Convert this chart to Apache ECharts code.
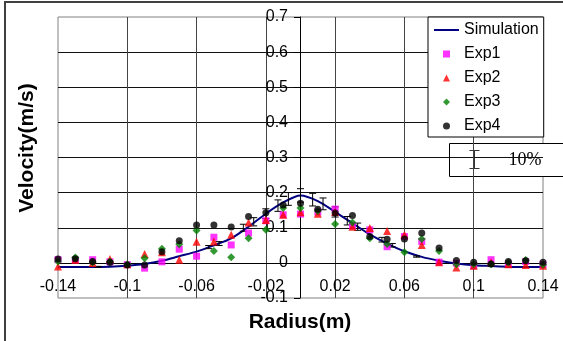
<!DOCTYPE html>
<html>
<head>
<meta charset="utf-8">
<script src="https://cdn.jsdelivr.net/npm/echarts@6/dist/echarts.min.js"></script>
<style>
  html, body { margin: 0; padding: 0; background: #fff; }
  #chart { width: 563px; height: 341px; }
</style>
</head>
<body>
<div id="chart"></div>
<script>
// radial positions (m)
const radius = [-0.14, -0.13, -0.12, -0.11, -0.10, -0.09, -0.08, -0.07, -0.06, -0.05,
  -0.04, -0.03, -0.02, -0.01, 0, 0.01, 0.02, 0.03, 0.04, 0.05,
  0.06, 0.07, 0.08, 0.09, 0.10, 0.11, 0.12, 0.13, 0.14];

const simulation = [-0.012, -0.012, -0.012, -0.011, -0.008, -0.003, 0.006, 0.019, 0.032, 0.05,
  0.07, 0.103, 0.14, 0.172, 0.192, 0.176, 0.145, 0.113, 0.081, 0.055,
  0.033, 0.017, 0.006, -0.002, -0.007, -0.009, -0.011, -0.012, -0.012];

const exp1 = [0.009, 0.008, 0.009, 0.003, -0.005, -0.015, 0.003, 0.039, 0.019, 0.073,
  0.051, 0.085, 0.12, 0.137, 0.139, 0.145, 0.153, 0.106, 0.094, 0.046,
  0.075, 0.061, 0.002, -0.001, -0.008, 0.009, -0.003, 0.004, -0.005];

const exp2 = [-0.01, 0.009, 0, 0.011, -0.004, 0.025, 0.03, 0.009, 0.06, 0.061,
  0.08, 0.115, 0.122, 0.137, 0.144, 0.14, 0.145, 0.103, 0.099, 0.091,
  0.08, 0.051, 0.002, -0.013, -0.008, 0.002, -0.004, -0.006, -0.008];

const exp3 = [0.004, 0.015, 0.002, 0.004, -0.004, 0.013, 0.04, 0.053, 0.092, 0.034,
  0.016, 0.07, 0.094, 0.156, 0.156, 0.148, 0.111, 0.115, 0.07, 0.054,
  0.03, 0.068, 0.034, -0.004, -0.004, -0.004, 0.001, 0.008, -0.005];

const exp4 = [0.011, 0.012, 0.004, 0.001, -0.006, -0.006, 0.032, 0.063, 0.108, 0.108,
  0.102, 0.132, 0.143, 0.165, 0.17, 0.153, 0.142, 0.135, 0.075, 0.067,
  0.068, 0.085, 0.042, 0.007, 0.002, -0.003, 0.004, 0.006, 0.002];

// error bars (10%) on the simulation curve
const errX = [-0.117, -0.053, -0.047, -0.033, -0.027, -0.02, -0.013, -0.007, 0,
  0.007, 0.013, 0.02, 0.027, 0.033, 0.047, 0.053, 0.067, 0.12];
const errY = [-0.011, 0.045, 0.055, 0.1, 0.117, 0.14, 0.163, 0.182, 0.192,
  0.18, 0.168, 0.145, 0.12, 0.103, 0.066, 0.05, 0.018, -0.011];
const ERR_FRAC = 0.1;

const FONT = "'Liberation Sans', Arial, sans-serif";

// legend icons as paths so they keep their aspect
const ICONS = {
  Simulation: 'path://M0,0H25V2H0Z',
  Exp1: 'path://M0,0H1V1H0Z',
  Exp2: 'path://M0.5,0L1,1H0Z',
  Exp3: 'path://M0.5,0L1,0.5L0.5,1L0,0.5Z',
  Exp4: 'path://M0.5,0A0.5,0.5,0,1,1,0.5,1A0.5,0.5,0,1,1,0.5,0Z'
};

const pairs = (ys) => radius.map((x, i) => [x, ys[i]]);

const chart = echarts.init(document.getElementById('chart'));

// grid box: left 58, top 17, right edge 543, bottom edge 298 -> zero lines at x=300, y=263
chart.setOption({
  backgroundColor: '#fff',
  animation: false,
  textStyle: { fontFamily: FONT },
  grid: {
    left: 58, right: 20, top: 17, bottom: 43,
    show: true, borderColor: '#808080', borderWidth: 1, backgroundColor: '#fff'
  },
  legend: {
    orient: 'vertical',
    left: 428, top: 17,
    padding: [5, 5, 3, 6],
    itemWidth: 25, itemHeight: 7, itemGap: 8,
    symbolKeepAspect: true,
    backgroundColor: '#fff', borderColor: '#000', borderWidth: 1, borderRadius: 0,
    textStyle: { fontFamily: FONT, fontSize: 16, color: '#000' },
    data: Object.keys(ICONS).map(n => ({ name: n, icon: ICONS[n] }))
  },
  xAxis: {
    type: 'value', min: -0.14, max: 0.14, interval: 0.04,
    position: 'bottom', offset: -35,
    axisLine: { onZero: false, lineStyle: { color: '#000', width: 1 } },
    axisTick: { show: false },
    axisLabel: { color: '#000', fontSize: 16, fontFamily: FONT, margin: 16 },
    splitLine: { show: true, showMinLine: false, showMaxLine: false, lineStyle: { color: '#444', width: 1 } }
  },
  yAxis: {
    type: 'value', min: -0.1, max: 0.7, interval: 0.1,
    position: 'left', offset: -242,
    axisLine: { onZero: false, lineStyle: { color: '#000', width: 1 } },
    axisTick: { show: true, length: 6, lineStyle: { color: '#000' } },
    axisLabel: { color: '#000', fontSize: 16, fontFamily: FONT, margin: 12 },
    splitLine: { show: true, showMinLine: false, showMaxLine: false, lineStyle: { color: '#111', width: 1 } }
  },
  series: [
    {
      name: 'Simulation', type: 'line', data: pairs(simulation),
      symbol: 'none', smooth: 0.3,
      lineStyle: { color: '#000080', width: 2 }, itemStyle: { color: '#000080' }, z: 2
    },
    {
      type: 'custom', z: 3,
      data: errX.map((x, i) => [x, errY[i]]),
      renderItem: function (params, api) {
        const x = api.value(0), y = api.value(1), d = Math.abs(y) * ERR_FRAC;
        const top = api.coord([x, y + d]);
        const bot = api.coord([x, y - d]);
        const w = 3.5;
        const st = { stroke: '#000', lineWidth: 1 };
        return {
          type: 'group',
          children: [
            { type: 'line', shape: { x1: top[0], y1: top[1], x2: bot[0], y2: bot[1] }, style: st },
            { type: 'line', shape: { x1: top[0] - w, y1: top[1], x2: top[0] + w, y2: top[1] }, style: st },
            { type: 'line', shape: { x1: bot[0] - w, y1: bot[1], x2: bot[0] + w, y2: bot[1] }, style: st }
          ]
        };
      }
    },
    { name: 'Exp1', type: 'scatter', data: pairs(exp1), symbol: 'rect', symbolSize: 7, itemStyle: { color: '#ff00ff' }, z: 4 },
    { name: 'Exp2', type: 'scatter', data: pairs(exp2), symbol: 'triangle', symbolSize: 8, itemStyle: { color: '#ff0000' }, z: 5 },
    { name: 'Exp3', type: 'scatter', data: pairs(exp3), symbol: 'diamond', symbolSize: 8, itemStyle: { color: '#008000' }, z: 6 },
    { name: 'Exp4', type: 'scatter', data: pairs(exp4), symbol: 'circle', symbolSize: 7, itemStyle: { color: '#000' }, z: 7 }
  ],
  graphic: [
    // outer frame (top and left edges)
    { type: 'line', shape: { x1: 4, y1: 2, x2: 563, y2: 2 }, style: { stroke: '#404040', lineWidth: 2 }, z: 100 },
    { type: 'line', shape: { x1: 5, y1: 2, x2: 5, y2: 341 }, style: { stroke: '#404040', lineWidth: 2 }, z: 100 },
    // axis titles
    {
      type: 'text', x: 27, y: 148, rotation: Math.PI / 2,
      style: { text: 'Velocity(m/s)', font: 'bold 21px ' + FONT, fill: '#000', align: 'center', verticalAlign: 'middle' },
      z: 100
    },
    {
      type: 'text', x: 300, y: 322,
      style: { text: 'Radius(m)', font: 'bold 21px ' + FONT, fill: '#000', align: 'center', verticalAlign: 'middle' },
      z: 100
    },
    // error bar key box
    {
      type: 'group', left: 449, top: 143, z: 100,
      children: [
        { type: 'rect', shape: { x: 0, y: 0, width: 120, height: 33 }, style: { fill: '#fff', stroke: '#000', lineWidth: 1 } },
        { type: 'line', shape: { x1: 25, y1: 7, x2: 25, y2: 25 }, style: { stroke: '#333', lineWidth: 1 } },
        { type: 'line', shape: { x1: 20, y1: 7, x2: 30, y2: 7 }, style: { stroke: '#333', lineWidth: 1 } },
        { type: 'line', shape: { x1: 20, y1: 25, x2: 30, y2: 25 }, style: { stroke: '#333', lineWidth: 1 } },
        { type: 'text', x: 59, y: 17, style: { text: '10%', font: '18px "Liberation Serif", "Times New Roman", serif', fill: '#000', verticalAlign: 'middle' } }
      ]
    }
  ]
});
</script>
</body>
</html>
